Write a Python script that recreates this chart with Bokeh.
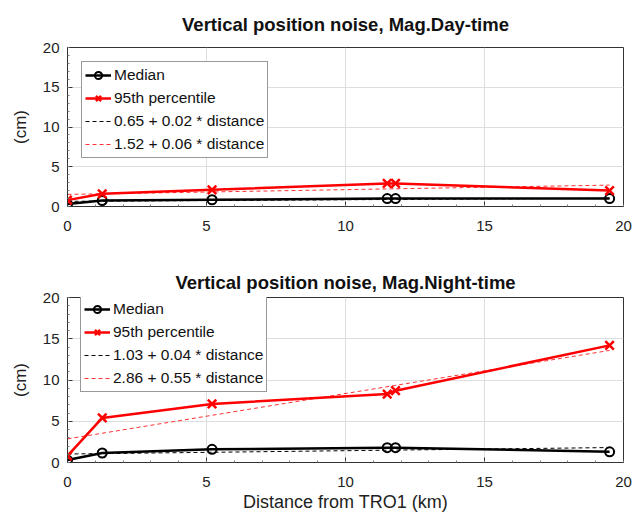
from bokeh.plotting import figure
from bokeh.models import Range1d, LinearAxis, Legend, LegendItem, FixedTicker
from bokeh.layouts import column
from bokeh.embed import file_html
from bokeh.resources import INLINE

FONT = "Liberation Sans"

distance_km = [0.0, 1.25, 5.2, 11.5, 11.8, 19.5]

day_median = [0.3, 0.75, 0.85, 1.0, 1.0, 1.0]
day_p95 = [0.8, 1.6, 2.1, 2.9, 2.9, 2.0]
day_fit_median = (0.65, 0.02)
day_fit_p95 = (1.52, 0.06)

night_median = [0.3, 1.15, 1.6, 1.8, 1.8, 1.3]
night_p95 = [0.8, 5.4, 7.1, 8.3, 8.7, 14.2]
night_fit_median = (1.03, 0.04)
night_fit_p95 = (2.86, 0.55)

titles = ["Vertical position noise, Mag.Day-time", "Vertical position noise, Mag.Night-time"]
xlabel = "Distance from TRO1 (km)"
ylabel = "(cm)"
ticks = [0, 5, 10, 15, 20]
minor = [float(i) for i in range(21)]


def style_axis(ax):
    ax.major_tick_in = 5
    ax.major_tick_out = 0
    ax.minor_tick_in = 2
    ax.minor_tick_out = 0
    ax.axis_line_color = "#333333"
    ax.major_tick_line_color = "#333333"
    ax.minor_tick_line_color = "#777777"
    ax.major_label_text_font = FONT
    ax.major_label_text_font_size = "15px"
    ax.major_label_text_color = "#222222"
    ax.axis_label_text_font = FONT
    ax.axis_label_text_font_size = "18px"
    ax.axis_label_text_font_style = "normal"
    ax.axis_label_text_color = "#222222"


def make_panel(title, med, p95, fit_m, fit_p, height, top, bottom, show_xlabel,
               title_standoff, legend_loc):
    p = figure(width=642, height=height, x_range=Range1d(0, 20), y_range=Range1d(0, 20),
               output_backend="svg", toolbar_location=None,
               min_border_left=67, min_border_right=19, min_border_top=top,
               min_border_bottom=bottom, x_axis_location=None, y_axis_location=None)
    p.title.text = title
    p.title.align = "center"
    p.title.text_font = FONT
    p.title.text_font_size = "18.5px"
    p.title.text_font_style = "bold"
    p.title.text_color = "#111111"
    p.title.standoff = title_standoff
    p.outline_line_color = "#333333"
    p.outline_line_width = 1
    p.background_fill_color = "white"
    p.border_fill_color = "white"

    xa = LinearAxis(ticker=FixedTicker(ticks=ticks, minor_ticks=minor))
    ya = LinearAxis(ticker=FixedTicker(ticks=ticks, minor_ticks=minor))
    style_axis(xa)
    style_axis(ya)
    xa.major_label_standoff = 14
    ya.major_label_standoff = 8
    ya.axis_label = ylabel
    ya.axis_label_text_font_size = "17px"
    ya.axis_label_standoff = 10
    if show_xlabel:
        xa.axis_label = xlabel
        xa.axis_label_standoff = 2
    p.add_layout(xa, "below")
    p.add_layout(ya, "left")

    p.xgrid.ticker = FixedTicker(ticks=ticks)
    p.ygrid.ticker = FixedTicker(ticks=ticks)
    p.xgrid.grid_line_color = "#dedede"
    p.ygrid.grid_line_color = "#dedede"
    p.xgrid.grid_line_width = 1
    p.ygrid.grid_line_width = 1

    xs_fit = [distance_km[0], distance_km[-1]]
    fm = [fit_m[0] + fit_m[1] * x for x in xs_fit]
    fp = [fit_p[0] + fit_p[1] * x for x in xs_fit]

    r_fm = p.line(xs_fit, fm, line_color="black", line_width=1, line_dash="4 3")
    r_fp = p.line(xs_fit, fp, line_color="#ff3333", line_width=1, line_dash="4 3")
    r_ml = p.line(distance_km, med, line_color="black", line_width=2.5)
    r_ms = p.scatter(distance_km, med, marker="circle", size=9, line_color="black",
                     line_width=2, fill_color=None)
    r_pl = p.line(distance_km, p95, line_color="#ff0000", line_width=2.5)
    r_ps = p.scatter(distance_km, p95, marker="x", size=12, line_color="#ff0000", line_width=2.5)

    legend = Legend(items=[
        LegendItem(label="Median", renderers=[r_ml, r_ms]),
        LegendItem(label="95th percentile", renderers=[r_pl, r_ps]),
        LegendItem(label="%.2f + %.2f * distance" % fit_m, renderers=[r_fm]),
        LegendItem(label="%.2f + %.2f * distance" % fit_p, renderers=[r_fp]),
    ], location=legend_loc)
    legend.label_text_font = FONT
    legend.label_text_font_size = "15.5px"
    legend.label_text_color = "#111111"
    legend.border_line_color = "#333333"
    legend.border_line_width = 1
    legend.background_fill_alpha = 1
    legend.glyph_width = 26
    legend.glyph_height = 18
    legend.label_height = 20
    legend.spacing = 3
    legend.padding = 3
    legend.margin = 14
    legend.label_standoff = 3
    p.add_layout(legend, "center")
    return p


p1 = make_panel(titles[0], day_median, day_p95, day_fit_median, day_fit_p95, 252, 47, 46,
                False, 22, "top_left")
p1.title.vertical_align = "top"
p2 = make_panel(titles[1], night_median, night_p95, night_fit_median, night_fit_p95, 264, 45, 54,
                True, 10, (13, 70))

layout = column(p1, p2, spacing=0)
open("out.html", "w").write(file_html(layout, INLINE))
